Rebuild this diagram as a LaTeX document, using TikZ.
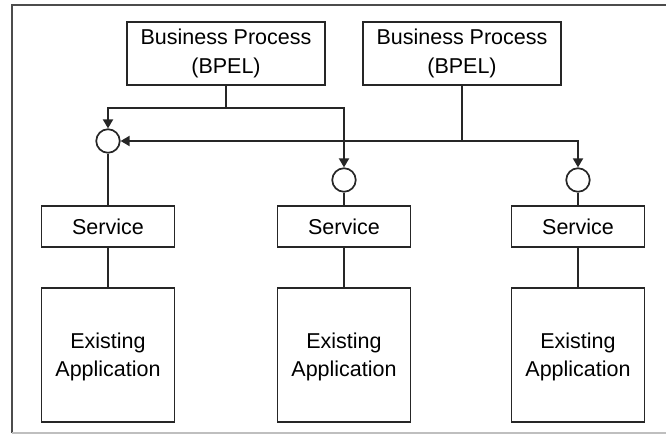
\documentclass[tikz,border=0pt]{standalone}
\usepackage{fontspec}
\setmainfont{Liberation Sans}
\usetikzlibrary{arrows.meta}
\begin{document}
\begin{tikzpicture}[x=1pt,y=-1pt,
  box/.style={draw=black!85, line width=1.9pt, fill=white, inner sep=0pt, align=center,
     font=\fontsize{21.5}{28}\selectfont},
  port/.style={circle, draw=black!85, line width=1.7pt, minimum size=23.5pt, inner sep=0pt, fill=white},
  wire/.style={draw=black!85, line width=1.8pt},
  arr/.style={wire, -{Triangle[length=9pt,width=10pt]}}]
\useasboundingbox (0,0) rectangle (666,435);
% frame
\draw[black!70, line width=2pt] (12,433) -- (12,5) -- (670,5);
\draw[black!25, line width=1.2pt] (12,433) -- (670,433);
% business processes
\node[box, minimum width=198pt, minimum height=63pt] (bp1) at (226,53.5) {Business Process\\[1pt](BPEL)};
\node[box, minimum width=198pt, minimum height=63pt] (bp2) at (462,53.5) {Business Process\\[1pt](BPEL)};
% ports
\node[port] (p1) at (108,141) {};
\node[port] (p2) at (344,180) {};
\node[port] (p3) at (578,180) {};
% services
\node[box, minimum width=133pt, minimum height=41pt] (s1) at (108,226.5) {Service};
\node[box, minimum width=133pt, minimum height=41pt] (s2) at (344,226.5) {Service};
\node[box, minimum width=133pt, minimum height=41pt] (s3) at (578,226.5) {Service};
% applications
\node[box, minimum width=133pt, minimum height=134pt, text depth=0pt] (a1) at (108,355) {Existing\\Application};
\node[box, minimum width=133pt, minimum height=134pt, text depth=0pt] (a2) at (344,355) {Existing\\Application};
\node[box, minimum width=133pt, minimum height=134pt, text depth=0pt] (a3) at (578,355) {Existing\\Application};
% connectors
\coordinate (j1) at (226,108);
\coordinate (j2) at (462,141);
\draw[wire] (bp1.south) -- (j1);
\draw[arr] (j1) -| (p1.north);
\draw[arr] (j1) -| (p2.north);
\draw[wire] (bp2.south) -- (j2);
\draw[arr] (j2) -- (p1.east);
\draw[arr] (j2) -| (p3.north);
\draw[wire] (p1.south) -- (s1.north);
\draw[wire] (p2.south) -- (s2.north);
\draw[wire] (p3.south) -- (s3.north);
\draw[wire] (s1.south) -- (a1.north);
\draw[wire] (s2.south) -- (a2.north);
\draw[wire] (s3.south) -- (a3.north);
\end{tikzpicture}
\end{document}
